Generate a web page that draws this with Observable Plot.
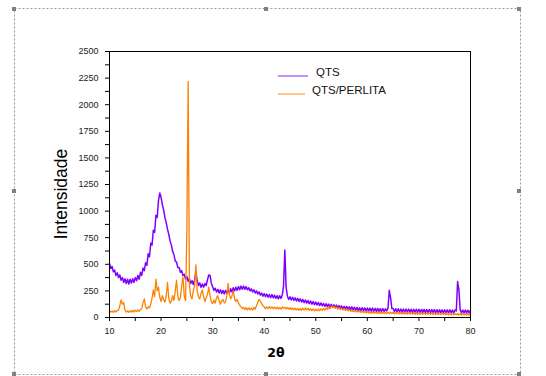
<!DOCTYPE html>
<html>
<head>
<meta charset="utf-8">
<script src="https://cdn.jsdelivr.net/npm/d3@7"></script>
<script src="https://cdn.jsdelivr.net/npm/@observablehq/plot@0.6"></script>
<style>
  html, body { margin: 0; padding: 0; background: #fff; }
  #chart { position: relative; width: 546px; height: 376px; }
</style>
</head>
<body>
<div id="chart"></div>
<script>
// 2θ sampling grid (instrument step 0.25°, from 10° to 80°)
const twoTheta = d3.range(0, 281).map(i => 10 + i * 0.25);

// QTS intensities (one row per degree: .00 .25 .50 .75)
const qts = [
  510, 460, 480, 430,   // 10
  445, 395, 420, 375,   // 11
  400, 350, 375, 330,   // 12
  365, 320, 360, 315,   // 13
  360, 325, 365, 330,   // 14
  375, 345, 395, 360,   // 15
  425, 395, 465, 440,   // 16
  515, 490, 600, 570,   // 17
  700, 680, 820, 800,   // 18
  960, 940, 1100, 1170, // 19
  1130, 1060, 1010, 940,// 20
  890, 830, 780, 720,   // 21
  680, 620, 590, 530,   // 22
  520, 470, 470, 425,   // 23
  440, 395, 405, 360,   // 24
  385, 340, 365, 320,   // 25
  345, 310, 355, 430,   // 26
  350, 300, 325, 285,   // 27
  315, 285, 320, 300,   // 28
  355, 400, 395, 320,   // 29
  290, 255, 275, 240,   // 30
  265, 230, 260, 225,   // 31
  255, 220, 255, 225,   // 32
  260, 230, 270, 240,   // 33
  280, 250, 285, 255,   // 34
  290, 260, 295, 265,   // 35
  295, 265, 290, 260,   // 36
  280, 250, 270, 240,   // 37
  260, 230, 250, 220,   // 38
  240, 210, 230, 200,   // 39
  225, 195, 220, 190,   // 40
  215, 185, 215, 185,   // 41
  210, 180, 205, 175,   // 42
  205, 180, 210, 300,   // 43
  635, 280, 200, 170,   // 44
  195, 165, 190, 160,   // 45
  185, 155, 180, 150,   // 46
  175, 145, 170, 140,   // 47
  165, 135, 160, 130,   // 48
  155, 125, 150, 120,   // 49
  145, 118, 140, 112,   // 50
  137, 110, 132, 105,   // 51
  130, 102, 126, 98,    // 52
  124, 96, 120, 92,     // 53
  117, 90, 112, 86,     // 54
  110, 82, 106, 80,     // 55
  104, 78, 100, 74,     // 56
  100, 72, 96, 70,      // 57
  95, 67, 92, 65,       // 58
  92, 64, 90, 62,       // 59
  90, 62, 88, 60,       // 60
  88, 60, 86, 58,       // 61
  86, 58, 84, 57,       // 62
  84, 56, 82, 62,       // 63
  88, 255, 190, 84,     // 64
  84, 55, 82, 54,       // 65
  82, 53, 80, 52,       // 66
  80, 52, 79, 51,       // 67
  79, 51, 78, 50,       // 68
  78, 50, 77, 49,       // 69
  77, 49, 76, 48,       // 70
  76, 48, 75, 48,       // 71
  75, 47, 74, 47,       // 72
  74, 46, 73, 46,       // 73
  73, 46, 72, 45,       // 74
  73, 45, 72, 45,       // 75
  72, 44, 71, 44,       // 76
  71, 62, 338, 260,     // 77
  72, 44, 70, 43,       // 78
  70, 43, 69, 42,       // 79
  68                    // 80
];

// QTS/PERLITA intensities (same grid)
const qtsPerlita = [
  65, 50, 62, 48,       // 10
  64, 52, 66, 70,       // 11
  110, 165, 125, 140,   // 12
  70, 50, 62, 48,       // 13
  64, 50, 66, 52,       // 14
  68, 55, 72, 58,       // 15
  75, 82, 140, 175,     // 16
  100, 80, 100, 90,     // 17
  125, 180, 260, 195,   // 18
  360, 250, 285, 190,   // 19
  150, 205, 165, 145,   // 20
  205, 330, 180, 135,   // 21
  155, 205, 160, 250,   // 22
  350, 195, 160, 185,   // 23
  300, 380, 200, 160,   // 24
  830, 2220, 300, 200,  // 25
  175, 250, 300, 495,   // 26
  250, 195, 175, 225,   // 27
  260, 195, 150, 185,   // 28
  220, 285, 200, 150,   // 29
  130, 165, 135, 185,   // 30
  205, 160, 125, 155,   // 31
  170, 135, 150, 205,   // 32
  320, 215, 175, 205,   // 33
  250, 175, 150, 170,   // 34
  140, 115, 100, 85,    // 35
  95, 75, 92, 72,       // 36
  90, 72, 88, 70,       // 37
  95, 78, 110, 140,     // 38
  170, 155, 130, 110,   // 39
  100, 82, 100, 84,     // 40
  102, 85, 100, 84,     // 41
  98, 82, 96, 80,       // 42
  95, 78, 100, 85,      // 43
  98, 80, 95, 78,       // 44
  92, 75, 90, 72,       // 45
  88, 70, 86, 68,       // 46
  84, 66, 88, 70,       // 47
  90, 72, 86, 68,       // 48
  82, 64, 80, 62,       // 49
  78, 62, 80, 64,       // 50
  82, 66, 86, 70,       // 51
  90, 75, 96, 82,       // 52
  108, 92, 105, 88,     // 53
  98, 80, 92, 75,       // 54
  86, 70, 82, 66,       // 55
  78, 62, 74, 58,       // 56
  70, 55, 68, 52,       // 57
  64, 50, 62, 48,       // 58
  60, 46, 58, 44,       // 59
  56, 42, 55, 40,       // 60
  54, 40, 53, 39,       // 61
  52, 38, 52, 38,       // 62
  51, 37, 50, 36,       // 63
  50, 36, 50, 36,       // 64
  49, 35, 48, 34,       // 65
  48, 34, 47, 33,       // 66
  47, 33, 46, 32,       // 67
  46, 32, 46, 32,       // 68
  45, 31, 45, 31,       // 69
  44, 30, 44, 30,       // 70
  43, 30, 43, 29,       // 71
  42, 29, 42, 28,       // 72
  41, 28, 41, 28,       // 73
  40, 27, 40, 27,       // 74
  40, 26, 39, 26,       // 75
  38, 25, 38, 25,       // 76
  37, 25, 37, 24,       // 77
  36, 24, 36, 23,       // 78
  35, 23, 35, 22,       // 79
  34                    // 80
];

const seriesNames = ["QTS", "QTS/PERLITA"];
const seriesColors = ["#8000ff", "#ff8000"];

const xTicks = [10, 20, 30, 40, 50, 60, 70, 80];
const xMinor = [15, 25, 35, 45, 55, 65, 75];
const yTicks = [0, 250, 500, 750, 1000, 1250, 1500, 1750, 2000, 2250, 2500];
const yMinor = [125, 375, 625, 875, 1125, 1375, 1625, 1875, 2125, 2375];

const rowsQts = twoTheta.map((t, i) => ({t, v: qts[i]}));
const rowsPer = twoTheta.map((t, i) => ({t, v: qtsPerlita[i]}));

const W = 546, H = 376;
const mL = 109, mR = 76, mT = 51, mB = 59;

const chart = Plot.plot({
  width: W, height: H,
  marginLeft: mL, marginRight: mR, marginTop: mT, marginBottom: mB,
  x: {domain: [10, 80]},
  y: {domain: [0, 2500]},
  style: {fontFamily: "'Liberation Sans', Arial, sans-serif", fontSize: "9px", color: "#222", background: "#fff"},
  marks: [
    Plot.line(rowsQts, {x: "t", y: "v", stroke: seriesColors[0], strokeWidth: 1.5}),
    Plot.line(rowsPer, {x: "t", y: "v", stroke: seriesColors[1], strokeWidth: 1.3}),
    Plot.axisY({ticks: yTicks, tickSize: 4, tickPadding: 7, tickFormat: d => String(d), label: null, stroke: "#000"}),
    Plot.axisY({ticks: yMinor, tickSize: 4, tickFormat: () => "", label: null, stroke: "#000"}),
    Plot.axisX({ticks: xTicks, tickSize: 4, tickPadding: 6, tickFormat: d => String(d), label: null, stroke: "#000"}),
    Plot.axisX({ticks: xMinor, tickSize: 4, tickFormat: () => "", label: null, stroke: "#000"}),
    Plot.frame({stroke: "#000", strokeWidth: 1})
  ]
});

document.getElementById("chart").appendChild(chart);

const svg = d3.select(chart);

// axis titles
svg.append("text")
  .attr("transform", `translate(61, 194) rotate(-90)`)
  .attr("text-anchor", "middle")
  .attr("dominant-baseline", "central")
  .style("font-family", "'Liberation Sans', Arial, sans-serif")
  .style("font-size", "17.5px")
  .attr("fill", "#000")
  .text("Intensidade");

svg.append("text")
  .attr("x", 276).attr("y", 352)
  .attr("text-anchor", "middle")
  .attr("dominant-baseline", "central")
  .style("font-family", "'DejaVu Sans', 'Liberation Sans', sans-serif")
  .style("font-size", "12.5px")
  .style("font-weight", "bold")
  .attr("fill", "#000")
  .text("2θ");

// legend
const leg = svg.append("g");
const legItems = [
  {x1: 278, x2: 308, ly: 76, tx: 316, ty: 72},
  {x1: 278, x2: 305, ly: 94, tx: 312, ty: 90}
];
legItems.forEach((d, i) => {
  leg.append("line").attr("x1", d.x1).attr("x2", d.x2).attr("y1", d.ly).attr("y2", d.ly)
    .attr("stroke", seriesColors[i]).attr("stroke-width", 1.2).attr("opacity", 0.75);
  leg.append("text").attr("x", d.tx).attr("y", d.ty)
    .attr("text-anchor", "start")
    .attr("dominant-baseline", "central")
    .style("font-family", "'Liberation Sans', Arial, sans-serif")
    .style("font-size", "11.5px")
    .attr("fill", "#111")
    .text(seriesNames[i]);
});

// selection frame (dotted border with handles)
const fr = svg.append("g");
fr.append("rect").attr("x", 14.5).attr("y", 8.5).attr("width", 506).attr("height", 366)
  .attr("fill", "none").attr("stroke", "#9a9a9a").attr("stroke-width", 1)
  .attr("stroke-dasharray", "2,2");
const handles = [[14, 9], [266, 9], [519, 9], [14, 191], [519, 191], [14, 374], [266, 374], [519, 374]];
handles.forEach(([hx, hy]) => {
  fr.append("rect").attr("x", hx - 2).attr("y", hy - 2).attr("width", 4).attr("height", 4)
    .attr("fill", "#808080");
});
</script>
</body>
</html>
